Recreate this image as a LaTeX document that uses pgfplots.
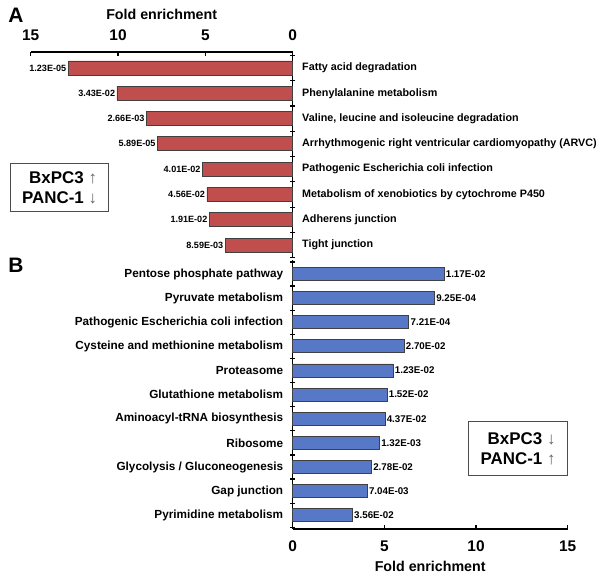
\documentclass[border=0pt]{standalone}
\usepackage{pgfplots}
\pgfplotsset{compat=1.18}
\usepackage{fontspec}
\setmainfont{Liberation Sans}
\newfontfamily\arrfont{Liberation Sans}

\definecolor{barred}{RGB}{192,78,76}
\definecolor{barblue}{RGB}{86,120,198}

\pgfplotsset{
  panel/.style={
    scale only axis,
    xbar,
    xmin=0, xmax=15,
    xtick={0,5,10,15},
    /pgf/number format/assume math mode=true,
    xticklabel style={font=\bfseries\fontsize{15.5}{17}\selectfont},
    xlabel={Fold enrichment},
    xlabel style={font=\bfseries\fontsize{14.3}{16}\selectfont},
    axis line style={line width=1.5bp, black},
    tick style={line width=1.2bp, black},
    major tick length=4bp,
    minor tick length=5bp,
    xtick align=inside,
    ytick align=center,
    every major y tick/.append style={draw=none},
    nodes near coords,
    point meta=explicit symbolic,
    clip=false,
  },
}
\tikzset{
  cellbox/.style={draw=black!70, line width=1bp, align=right, inner xsep=12bp,
    font=\bfseries\fontsize{17}{20}\selectfont},
}
\newcommand{\up}{{\arrfont\mdseries\color{black!60}↑}}
\newcommand{\down}{{\arrfont\mdseries\color{black!60}↓}}

\begin{document}
\begin{tikzpicture}
\useasboundingbox (0,0) rectangle (606bp,576bp);

% A: up in BxPC3, down in PANC-1
\begin{axis}[panel,
  at={(30.7bp,318bp)}, anchor=south west,
  width=262bp, height=206bp,
  x dir=reverse,
  bar width=14bp,
  ymin=0.49, ymax=8.63,
  axis x line*=top, axis y line*=right,
  xticklabel shift=8bp,
  xlabel style={at={(axis description cs:0.5,1)}, anchor=center, yshift=38bp},
  ytick={1,...,8},
  yticklabels={Tight junction, Adherens junction,
    Metabolism of xenobiotics by cytochrome P450,
    Pathogenic Escherichia coli infection,
    Arrhythmogenic right ventricular cardiomyopathy (ARVC),
    {Valine, leucine and isoleucine degradation},
    Phenylalanine metabolism, Fatty acid degradation},
  minor ytick={0.5,1.5,...,8.5},
  yticklabel style={font=\bfseries\fontsize{10.8}{12}\selectfont, anchor=west, xshift=4bp},
  nodes near coords style={font=\bfseries\fontsize{9.1}{10}\selectfont, inner sep=1.5bp},
  every node near coord/.append style={anchor=east},
]
\addplot[fill=barred, draw=black!75, line width=0.8bp] table[meta=p] {
x y p
3.87 1 8.59E-03
4.78 2 1.91E-02
4.91 3 4.56E-02
5.17 4 4.01E-02
7.75 5 5.89E-05
8.38 6 2.66E-03
10.06 7 3.43E-02
12.86 8 1.23E-05
};
\node[cellbox, inner ysep=8bp] at (axis cs:13.35,3.28) {BxPC3 \up\\PANC-1 \down};
\end{axis}

% B: down in BxPC3, up in PANC-1
\begin{axis}[panel,
  at={(292.7bp,47bp)}, anchor=south west,
  width=275bp, height=269bp,
  bar width=13bp,
  ymin=0.43, ymax=11.58,
  axis x line*=bottom, axis y line*=left,
  xticklabel shift=8bp,
  xlabel style={at={(axis description cs:0.5,0)}, anchor=center, yshift=-37bp},
  ytick={1,...,11},
  yticklabels={Pyrimidine metabolism, Gap junction,
    Glycolysis / Gluconeogenesis, Ribosome,
    Aminoacyl-tRNA biosynthesis, Glutathione metabolism,
    Proteasome, Cysteine and methionine metabolism,
    Pathogenic Escherichia coli infection,
    Pyruvate metabolism, Pentose phosphate pathway},
  minor ytick={0.5,1.5,...,11.5},
  yticklabel style={font=\bfseries\fontsize{11.8}{13}\selectfont, anchor=east, xshift=-4bp},
  nodes near coords style={font=\bfseries\fontsize{9.8}{11}\selectfont, inner sep=1.5bp},
  every node near coord/.append style={anchor=west},
]
\addplot[fill=barblue, draw=black!75, line width=0.8bp] table[meta=p] {
x y p
3.25 1 3.56E-02
4.06 2 7.04E-03
4.29 3 2.78E-02
4.73 4 1.32E-03
5.03 5 4.37E-02
5.14 6 1.52E-02
5.47 7 1.23E-02
6.07 8 2.70E-02
6.33 9 7.21E-04
7.73 10 9.25E-04
8.25 11 1.17E-02
};
\node[cellbox, inner ysep=11bp] at (axis cs:12.29,3.76) {BxPC3 \down\\PANC-1 \up};
\end{axis}

\node[font=\bfseries\fontsize{21}{24}\selectfont] at (16bp,561bp) {A};
\node[font=\bfseries\fontsize{21}{24}\selectfont] at (16bp,311bp) {B};
\end{tikzpicture}
\end{document}
